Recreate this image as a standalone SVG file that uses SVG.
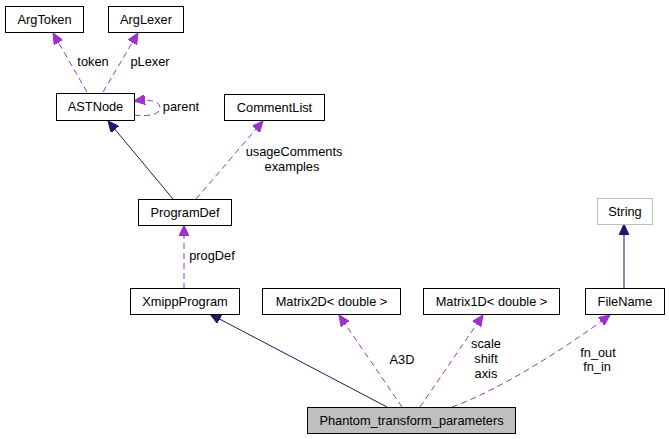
<svg xmlns="http://www.w3.org/2000/svg" width="669" height="439" viewBox="0 0 669 439">
<style>
.n rect{fill:#fff;stroke:#000;stroke-width:1}
.n text,.lbl{font-family:"Liberation Sans",Arial,sans-serif;font-size:12.8px;fill:#000;text-anchor:middle}
.d{fill:none;stroke:#9a32cd;stroke-width:1;stroke-dasharray:6,4;marker-end:url(#pa)}
.s{fill:none;stroke:#191970;stroke-width:1;marker-end:url(#na)}
</style>
<defs>
<marker id="pa" viewBox="0 0 11 10" refX="11" refY="5" markerWidth="11" markerHeight="10" markerUnits="userSpaceOnUse" orient="auto"><path d="M0,0 L11,5 L0,10 z" fill="#9a32cd" stroke="#9a32cd"/></marker>
<marker id="na" viewBox="0 0 11 10" refX="11" refY="5" markerWidth="11" markerHeight="10" markerUnits="userSpaceOnUse" orient="auto"><path d="M0,0 L11,5 L0,10 z" fill="#191970" stroke="#191970"/></marker>
</defs>
<rect width="669" height="439" fill="#fff"/>
<g id="edges">
<path class="d" d="M87,92 L53,33"/>
<text class="lbl" x="93" y="66">token</text>
<path class="d" d="M103,92 L138,33"/>
<text class="lbl" x="150" y="66">pLexer</text>
<path class="d" d="M134,115 C150,117 160,114 160,108 C160,101 150,99 134,101"/>
<text class="lbl" x="181" y="111">parent</text>
<path class="s" d="M173,199 L108,121"/>
<path class="d" d="M196,199 L263,121"/>
<text class="lbl" x="294" y="156">usageComments</text>
<text class="lbl" x="292" y="171">examples</text>
<path class="d" d="M184,289 L184,225"/>
<text class="lbl" x="212" y="260">progDef</text>
<path class="s" d="M387,407 L210,314"/>
<path class="d" d="M402,407 L339,315"/>
<text class="lbl" x="402" y="364">A3D</text>
<path class="d" d="M420,407 L483,315"/>
<text class="lbl" x="486" y="348">scale</text>
<text class="lbl" x="486" y="363">shift</text>
<text class="lbl" x="486" y="378">axis</text>
<path class="d" d="M452,407 C500,390 570,345 610,315"/>
<text class="lbl" x="598" y="357">fn_out</text>
<text class="lbl" x="597" y="371">fn_in</text>
<path class="s" d="M624,288 L624,224"/>
</g>
<g id="ArgToken" class="n"><rect x="5.5" y="6.5" width="78" height="26"/><text x="44.5" y="24">ArgToken</text></g>
<g id="ArgLexer" class="n"><rect x="108.5" y="6.5" width="75" height="26"/><text x="146" y="24">ArgLexer</text></g>
<g id="ASTNode" class="n"><rect x="56.5" y="93.5" width="78" height="27"/><text x="95.5" y="111">ASTNode</text></g>
<g id="CommentList" class="n"><rect x="224.5" y="94.5" width="100" height="26"/><text x="274.5" y="112">CommentList</text></g>
<g id="ProgramDef" class="n"><rect x="138.5" y="199.5" width="93" height="26"/><text x="185" y="217">ProgramDef</text></g>
<g id="XmippProgram" class="n"><rect x="130.5" y="288.5" width="109" height="26"/><text x="185" y="306">XmippProgram</text></g>
<g id="Matrix2D" class="n"><rect x="262.5" y="288.5" width="138" height="26"/><text x="331.5" y="306">Matrix2D&lt; double &gt;</text></g>
<g id="Matrix1D" class="n"><rect x="423.5" y="288.5" width="136" height="26"/><text x="491.5" y="306">Matrix1D&lt; double &gt;</text></g>
<g id="FileName" class="n"><rect x="585.5" y="288.5" width="79" height="26"/><text x="625" y="306">FileName</text></g>
<g id="String" class="n"><rect x="597.5" y="198.5" width="55" height="26" style="stroke:#bfbfbf"/><text x="625" y="216">String</text></g>
<g id="Phantom_transform_parameters" class="n"><rect x="307.5" y="407.5" width="208" height="26" style="fill:#bfbfbf"/><text x="411.5" y="425">Phantom_transform_parameters</text></g>
</svg>
